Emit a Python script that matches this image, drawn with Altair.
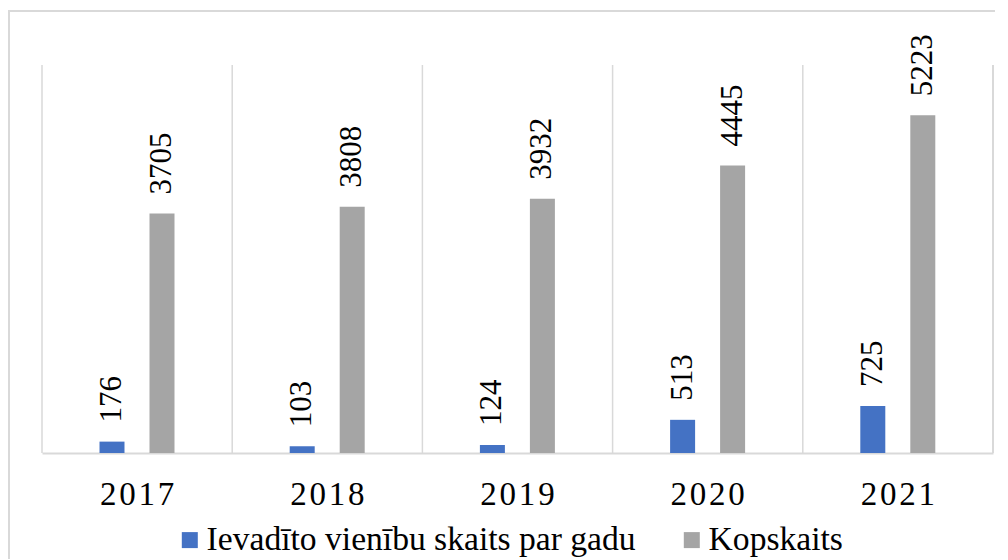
import altair as alt
import pandas as pd

years = ["2017", "2018", "2019", "2020", "2021"]
ievadito = [176, 103, 124, 513, 725]
kopskaits = [3705, 3808, 3932, 4445, 5223]
series_names = ["Ievadīto vienību skaits par gadu", "Kopskaits"]
colors = ["#4472C4", "#A5A5A5"]

rows = []
for i, y in enumerate(years):
    rows.append({"year": y, "series": series_names[0], "value": ievadito[i]})
    rows.append({"year": y, "series": series_names[1], "value": kopskaits[i]})
df = pd.DataFrame(rows)
years_df = pd.DataFrame({"year": years})

W, H = 951, 388
FONT = "Liberation Serif"
GRID = "#D9D9D9"

xscale = alt.Scale(domain=years, paddingInner=0, paddingOuter=0)
xoff = alt.XOffset("series:N", sort=series_names,
                   scale=alt.Scale(domain=series_names, range=[57.5, 132.5],
                                   paddingInner=0.5, paddingOuter=0))
yenc = alt.Y("value:Q", scale=alt.Scale(domain=[0, 6000]), axis=None)

grid = alt.Chart(years_df).mark_rule(color=GRID, strokeWidth=1.5).encode(
    x=alt.X("year:N", bandPosition=0, scale=xscale,
            axis=alt.Axis(title=None, labelFont=FONT, labelFontSize=33, labelColor="#000000",
                          ticks=False, tickSize=0, labelPadding=25, domainColor=GRID,
                          domainWidth=2, grid=False, labelAngle=0,
                          labelExpr="join(split(datum.label, ''), '\u200a')")),
    y=alt.value(0), y2=alt.value(H),
)
right_edge = alt.Chart(years_df).mark_rule(color=GRID, strokeWidth=1.5).encode(
    x=alt.value(W), y=alt.value(0), y2=alt.value(H)
)
frame_top = alt.Chart(years_df).mark_rule(color=GRID, strokeWidth=2).encode(
    x=alt.value(-34), x2=alt.value(W + 20), y=alt.value(-54)
)
frame_left = alt.Chart(years_df).mark_rule(color=GRID, strokeWidth=2).encode(
    x=alt.value(-33), y=alt.value(-54), y2=alt.value(H + 120)
)

bars = alt.Chart(df).mark_bar().encode(
    x=alt.X("year:N", scale=xscale),
    xOffset=xoff,
    y=yenc,
    color=alt.Color("series:N", sort=series_names,
                    scale=alt.Scale(domain=series_names, range=colors),
                    legend=alt.Legend(title=None, orient="none", direction="horizontal",
                                      legendX=131, legendY=458, symbolType="square",
                                      symbolSize=256, symbolStrokeWidth=0,
                                      labelFont=FONT, labelFontSize=33.6, labelColor="#000000",
                                      labelLimit=0, columnPadding=39, labelOffset=0)),
)

labels = alt.Chart(df).mark_text(angle=270, align="left", baseline="middle", dx=19,
                                 font=FONT, fontSize=31, color="#000000").encode(
    x=alt.X("year:N", scale=xscale),
    xOffset=xoff,
    y=yenc,
    text=alt.Text("value:Q", format="d"),
)

chart = alt.layer(frame_top, frame_left, grid, right_edge, bars, labels).properties(
    width=W, height=H,
    padding={"left": 34, "top": 57, "right": 2, "bottom": 106},
    autosize=alt.AutoSizeParams(type="none"),
).configure_view(stroke=None)

chart.save("out.html", embed_options={"renderer": "svg", "actions": False})
